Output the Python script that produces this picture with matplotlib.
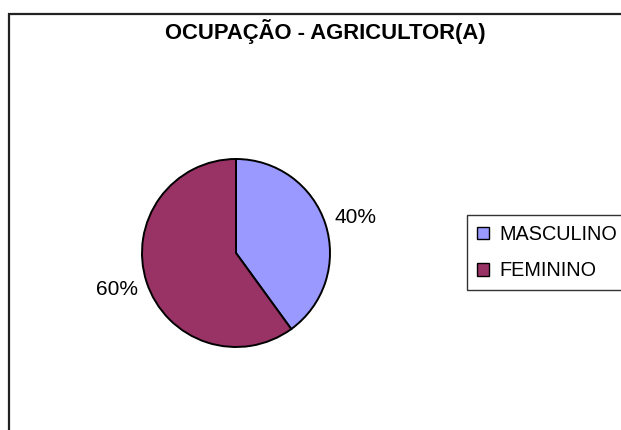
import matplotlib
matplotlib.use("Agg")
import matplotlib.pyplot as plt
from matplotlib.patches import Rectangle

plt.rcParams['font.family'] = ['Liberation Sans', 'DejaVu Sans']

titulo = "OCUPAÇÃO - AGRICULTOR(A)"
categorias = ["MASCULINO", "FEMININO"]
valores = [40, 60]
cores = ["#9999FF", "#993366"]

W, H = 621, 430
fig = plt.figure(figsize=(W / 100, H / 100), dpi=100)

# chart area border (runs off the right and bottom edges)
fig.add_artist(Rectangle((9 / W, -0.2), 1.2, 0.2 + 1 - 14 / H,
                         transform=fig.transFigure, fill=False,
                         edgecolor="#222222", linewidth=1.6))

fig.text(325 / W, 1 - 32 / H, titulo, ha="center", va="center",
         fontsize=15.8, fontweight="bold")

# pie: center (236,253), radius 94 px
cx, cy, r = 236, 253, 94
ax = fig.add_axes([(cx - r) / W, (H - cy - r) / H, 2 * r / W, 2 * r / H])
rotulos = ["%d%%" % v for v in valores]
wedges, texts = ax.pie(valores, colors=cores, startangle=90, counterclock=False,
                       labels=rotulos, labeldistance=1.1,
                       wedgeprops=dict(edgecolor="black", linewidth=1.4),
                       textprops=dict(fontsize=15))
texts[0].set_y(texts[0].get_position()[1] + 0.04)
texts[1].set_y(texts[1].get_position()[1] - 0.05)
ax.set_xlim(-1, 1)
ax.set_ylim(-1, 1)

leg = ax.legend(wedges, categorias, loc="upper left",
                bbox_to_anchor=(467 / W, 1 - 215 / H), bbox_transform=fig.transFigure,
                fontsize=14.3, frameon=True, fancybox=False, shadow=False,
                handlelength=0.62, handleheight=0.62, handletextpad=0.5,
                labelspacing=0.88, borderpad=0.5, borderaxespad=0)
leg.get_frame().set_edgecolor("black")
leg.get_frame().set_linewidth(1.0)
for h in leg.legend_handles:
    h.set_edgecolor("black")
    h.set_linewidth(1.0)

fig.savefig("out.png", dpi=100)
